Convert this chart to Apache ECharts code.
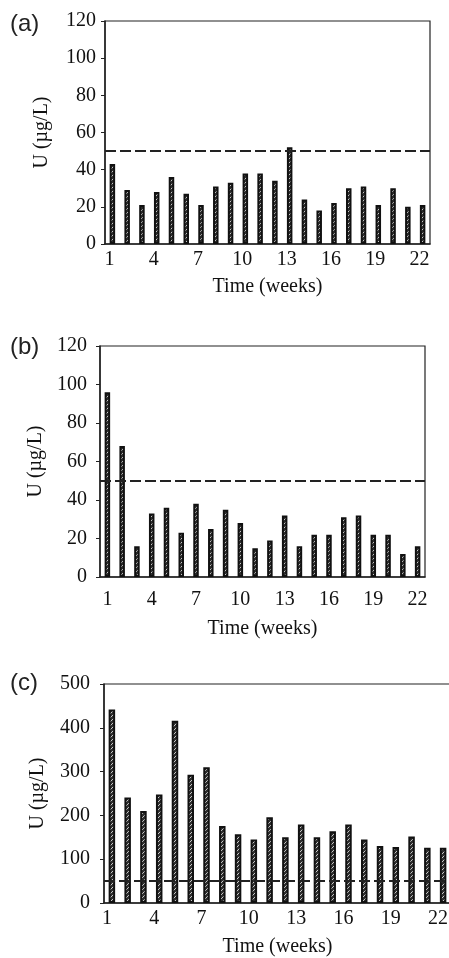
<!DOCTYPE html>
<html lang="en">
<head>
    <meta charset="UTF-8">
    <title>U (µg/L) by week</title>
    <script src="https://cdn.jsdelivr.net/npm/echarts@6/dist/echarts.min.js"></script>
    <style>
        html, body { margin: 0; padding: 0; background: #fff; }
        #content { width: 449px; height: 958px; }
    </style>
</head>
<body>
<div id="content"></div>
<script>
    // data
    var weeks = ['1','2','3','4','5','6','7','8','9','10','11','12','13','14','15','16','17','18','19','20','21','22'];
    var uA = [43, 29, 21, 28, 36, 27, 21, 31, 33, 38, 38, 34, 52, 24, 18, 22, 30, 31, 21, 30, 20, 21];
    var uB = [96, 68, 16, 33, 36, 23, 38, 25, 35, 28, 15, 19, 32, 16, 22, 22, 31, 32, 22, 22, 12, 16];
    var uC = [442, 241, 210, 248, 416, 293, 310, 176, 157, 145, 196, 150, 179, 150, 164, 179, 145, 130, 128, 152, 126, 126];
    var limit = 50;
    var panelNames = ['(a)', '(b)', '(c)'];

    var serif = 'Liberation Serif';

    // hatched fill for the bars
    function hatch() {
        var c = document.createElement('canvas');
        c.width = 4; c.height = 4;
        var ctx = c.getContext('2d');
        ctx.fillStyle = '#2e2e2e';
        ctx.fillRect(0, 0, 4, 4);
        ctx.strokeStyle = '#c8c8c8';
        ctx.lineWidth = 1;
        ctx.beginPath();
        ctx.moveTo(0, 4); ctx.lineTo(4, 0);
        ctx.stroke();
        return c;
    }
    var pattern = { image: hatch(), repeat: 'repeat' };

    var myChart = echarts.init(document.getElementById('content'));

    var grids = [
        { left: 105, width: 325, top: 21, height: 223 },
        { left: 100, width: 325, top: 346, height: 231 },
        { left: 104, width: 347, top: 684, height: 219 }
    ];
    var yMax = [120, 120, 500];
    var yStep = [20, 20, 100];
    var labelGap = [6, 13, 6];
    var labelShift = [6, 0, 10];   // right padding pulls the week labels a little left
    var xNameGap = [33, 42, 34];
    var yNameGap = [53, 48, 56];
    var yLabelGap = [9, 13, 14];
    var barW = [5.5, 5.5, 6.5];
    var values = [uA, uB, uC];

    var xAxes = [], yAxes = [], series = [], texts = [];
    for (var i = 0; i < 3; i++) {
        grids[i].show = true;
        grids[i].borderColor = '#222';
        grids[i].borderWidth = 1.2;
        grids[i].outerBoundsMode = 'none';
        xAxes.push({
            type: 'category', gridIndex: i, data: weeks,
            name: 'Time (weeks)', nameLocation: 'middle', nameGap: xNameGap[i],
            nameTextStyle: { fontFamily: serif, fontSize: 20, color: '#111' },
            axisLine: { lineStyle: { color: '#222', width: 1.5 } },
            axisTick: { inside: true, length: 5, interval: 0, lineStyle: { color: '#999', width: 2 } },
            axisLabel: {
                interval: 2, margin: labelGap[i], padding: [0, labelShift[i], 0, 0],
                fontFamily: serif, fontSize: 20, color: '#111'
            }
        });
        yAxes.push({
            type: 'value', gridIndex: i, min: 0, max: yMax[i], interval: yStep[i],
            name: 'U (µg/L)', nameLocation: 'middle', nameGap: yNameGap[i],
            nameTextStyle: { fontFamily: serif, fontSize: 20, color: '#111' },
            axisLine: { show: true, lineStyle: { color: '#222', width: 1.5 } },
            axisTick: { show: true, length: 4, lineStyle: { color: '#222' } },
            splitLine: { show: false },
            axisLabel: { margin: yLabelGap[i], fontFamily: serif, fontSize: 20, color: '#111' }
        });
        // guideline drawn from a helper series so it can sit behind the bars in (c)
        series.push({
            type: 'line', xAxisIndex: i, yAxisIndex: i, data: [], z: i === 2 ? 1 : 5,
            markLine: {
                silent: true, symbol: 'none', label: { show: false },
                lineStyle: { color: '#222', width: 2.2, type: [11, 4] },
                data: [{ yAxis: limit }]
            }
        });
        series.push({
            type: 'bar', xAxisIndex: i, yAxisIndex: i, data: values[i], barWidth: barW[i], z: 3,
            itemStyle: { color: pattern, borderColor: '#111', borderWidth: 2 }
        });
        texts.push({
            type: 'text', left: 10, top: [12, 335, 671][i],
            style: { text: panelNames[i], font: '24px "Liberation Sans"', fill: '#222' }
        });
    }

    var option = {
        animation: false,
        grid: grids,
        xAxis: xAxes,
        yAxis: yAxes,
        series: series,
        graphic: texts
    };
    myChart.setOption(option);
</script>
</body>
</html>
